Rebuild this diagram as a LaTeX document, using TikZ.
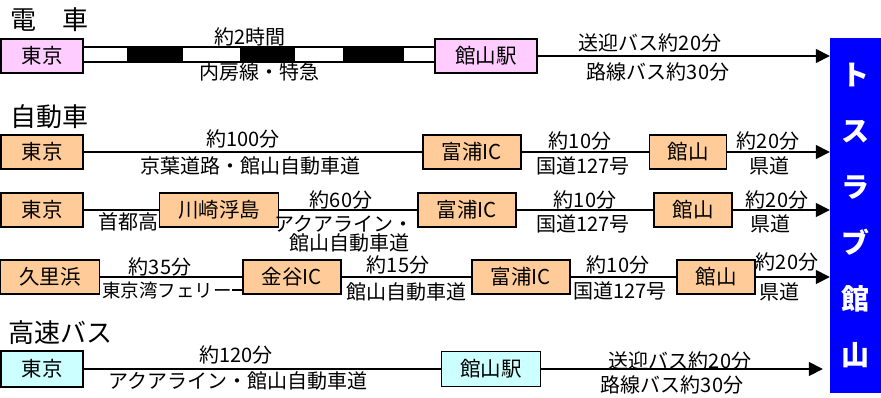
\documentclass[tikz,border=0pt]{standalone}
\usepackage{fontspec}
\setmainfont{Noto Sans CJK JP}
\usetikzlibrary{arrows.meta}
\definecolor{trainpink}{HTML}{FFCCFF}
\definecolor{carorange}{HTML}{FFCC99}
\definecolor{buscyan}{HTML}{CCFFFF}
\definecolor{destblue}{HTML}{0000FF}
\tikzset{
  stopbox/.style={draw, line width=1.4pt, minimum height=34pt, inner sep=0pt,
    font=\fontsize{20.5}{23}\selectfont},
  lab/.style={inner sep=0pt, font=\fontsize{20}{22}\selectfont},
  head/.style={anchor=west, inner sep=0pt, font=\fontsize{26}{28}\selectfont},
  route/.style={line width=1.6pt},
  goal/.style={route, -{Triangle[length=14pt, width=14pt]}}
}

\begin{document}
\begin{tikzpicture}[x=1pt, y=-1pt]
  \useasboundingbox (0,0) rectangle (881,397);

  % destination
  \node[fill=destblue, minimum width=51pt, minimum height=355pt, inner sep=0pt,
        text=white, align=center, font=\fontsize{28}{56}\selectfont\bfseries]
    (tosu) at (855.5,215.5) {ト\\ス\\ラ\\ブ\\館\\山};

  % train
  \node[head] (hTrain) at (10,20) {電　車};
  \node[stopbox, fill=trainpink, minimum width=82pt] (tokyoT) at (42,56) {東京};
  \node[stopbox, fill=trainpink, minimum width=102pt] (ekiT) at (486,56) {館山駅};
  \fill[white] (tokyoT.east |- 0,47) rectangle (ekiT.west |- 0,62);
  \foreach \a/\b in {127/183, 240/295, 343/404}{%
    \fill (\a,47) rectangle (\b,62);}
  \draw[line width=1.2pt] (tokyoT.east |- 0,47) rectangle (ekiT.west |- 0,62);
  \draw[goal] (ekiT) -- (ekiT -| tosu.west);
  \node[lab] (tA) at (250,37) {約2時間};
  \node[lab] (tB) at (259,72) {内房線・特急};
  \node[lab] (tC) at (650,43) {送迎バス約20分};
  \node[lab] (tD) at (658,72) {路線バス約30分};

  % car
  \node[head] (hCar) at (10,117) {自動車};
  % row 1
  \node[stopbox, fill=carorange, minimum width=82pt] (tokyoA) at (42,152) {東京};
  \node[stopbox, fill=carorange, minimum width=98pt] (tomiuraA) at (472,152) {富浦IC};
  \node[stopbox, fill=carorange, minimum width=77pt] (tateA) at (688,152) {館山};
  \draw[route] (tokyoA) -- (tomiuraA);
  \draw[route] (tomiuraA) -- (tateA);
  \draw[goal] (tateA) -- (tateA -| tosu.west);
  \node[lab] (aA) at (243,139) {約100分};
  \node[lab] (aB) at (250,166) {京葉道路・館山自動車道};
  \node[lab] (aC) at (580,141) {約10分};
  \node[lab] (aD) at (583,166) {国道127号};
  \node[lab] (aE) at (768,141) {約20分};
  \node[lab] (aF) at (769,166) {県道};
  % row 2
  \node[stopbox, fill=carorange, minimum width=82pt] (tokyoB) at (42,210) {東京};
  \node[stopbox, fill=carorange, minimum width=119pt] (kawasaki) at (219,210) {川崎浮島};
  \node[stopbox, fill=carorange, minimum width=98pt] (tomiuraB) at (467,210) {富浦IC};
  \node[stopbox, fill=carorange, minimum width=78pt] (tateB) at (693,210) {館山};
  \draw[route] (tokyoB) -- (kawasaki);
  \draw[route] (kawasaki) -- (tomiuraB);
  \draw[route] (tomiuraB) -- (tateB);
  \draw[goal] (tateB) -- (tateB -| tosu.west);
  \node[lab] (bA) at (128,222) {首都高};
  \node[lab] (bB) at (341,200) {約60分};
  \node[lab] (bC) at (344,224) {アクアライン・};
  \node[lab] (bD) at (349,243) {館山自動車道};
  \node[lab] (bE) at (585,200) {約10分};
  \node[lab] (bF) at (583,224) {国道127号};
  \node[lab] (bG) at (777,200) {約20分};
  \node[lab] (bH) at (770,224) {県道};
  % row 3
  \node[stopbox, fill=carorange, minimum width=99pt] (kurihama) at (50,277) {久里浜};
  \node[stopbox, fill=carorange, minimum width=98pt] (kanaya) at (292,277) {金谷IC};
  \node[stopbox, fill=carorange, minimum width=98pt] (tomiuraC) at (521,277) {富浦IC};
  \node[stopbox, fill=carorange, minimum width=78pt] (tateC) at (716,277) {館山};
  \draw[route] (kurihama) -- (kanaya);
  \draw[route] (kanaya) -- (tomiuraC);
  \draw[route] (tomiuraC) -- (tateC);
  \draw[goal] (tateC) -- (tateC -| tosu.west);
  \node[lab] (cA) at (160,267) {約35分};
  \node[lab, anchor=east, font=\fontsize{18.5}{21}\selectfont] (ferry) at (232,290) {東京湾フェリー};
  \draw[route] (ferry.east) -- (ferry.east -| kanaya.west);
  \node[lab] (cB) at (398,265) {約15分};
  \node[lab] (cC) at (406,292) {館山自動車道};
  \node[lab] (cD) at (618,265) {約10分};
  \node[lab] (cE) at (620,291) {国道127号};
  \node[lab] (cF) at (787,262) {約20分};
  \node[lab] (cG) at (779,292) {県道};

  % highway bus
  \node[head] (hBus) at (8,333) {高速バス};
  \node[stopbox, fill=buscyan, minimum width=82pt, minimum height=36pt] (tokyoBus) at (42,369) {東京};
  \node[stopbox, fill=buscyan, minimum width=99pt, minimum height=35pt] (ekiBus) at (491,369) {館山駅};
  \draw[route] (tokyoBus) -- (ekiBus);
  \draw[goal, shorten >=7pt] (ekiBus) -- (ekiBus -| tosu.west);
  \node[lab] (dA) at (236,355) {約120分};
  \node[lab] (dB) at (238,381) {アクアライン・館山自動車道};
  \node[lab] (dC) at (680,361) {送迎バス約20分};
  \node[lab] (dD) at (672,385) {路線バス約30分};
\end{tikzpicture}
\end{document}
